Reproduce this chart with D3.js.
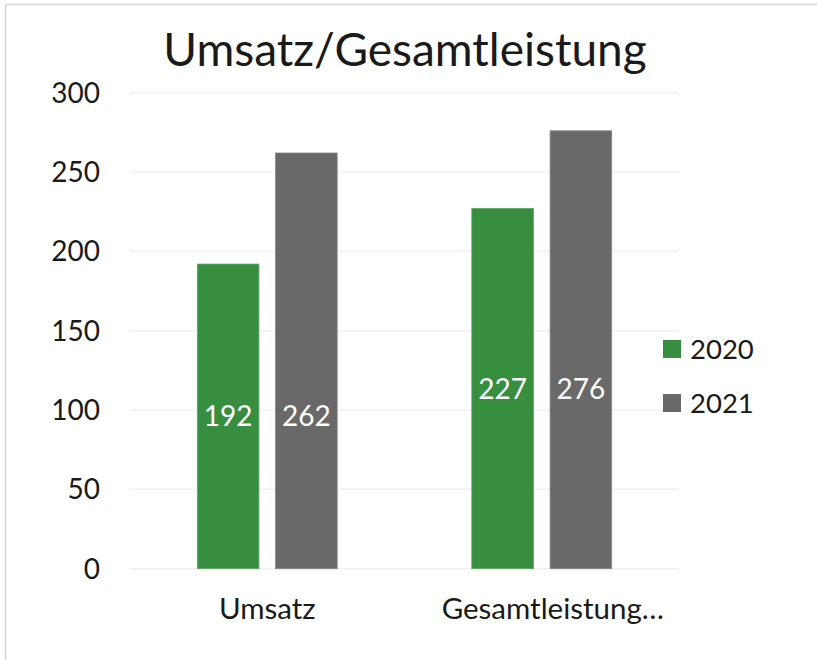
<!DOCTYPE html>
<html>
<head>
<meta charset="utf-8">
<script src="https://cdn.jsdelivr.net/npm/d3@7"></script>
<style>
  body { margin: 0; background: #fff; }
  svg text { font-family: Lato, "Open Sans", sans-serif; fill: #1a1a1a; }
</style>
</head>
<body>
<svg class="chart"></svg>
<script>
var width = 817,
    height = 660;

// chart data
var categories = ['Umsatz', 'Gesamtleistung'];
var series = ['2020', '2021'];
var values2020 = [192, 227];
var values2021 = [262, 276];
var yTicks = [0, 50, 100, 150, 200, 250, 300];
var colors = ['#378e3f', '#696969'];

var seriesValues = [values2020, values2021];

var chart = d3.select('.chart')
    .attr('width', width)
    .attr('height', height);

// outer frame
chart.append('path')
    .attr('d', 'M5.5,' + height + 'V4.5H' + width)
    .attr('fill', 'none')
    .attr('stroke', '#d4d4d4')
    .attr('stroke-width', 1.5);

var x0 = d3.scaleBand().domain(categories).range([130, 679]);
var x1 = d3.scaleBand().domain(series).range([0, x0.bandwidth()])
    .paddingInner(0.213).paddingOuter(0.86);
var y = d3.scaleLinear().domain([0, 300]).range([568.7, 92.7]);

// gridlines
chart.append('g').selectAll('line')
    .data(yTicks)
  .enter().append('line')
    .attr('x1', 130)
    .attr('x2', 679)
    .attr('y1', function(d) { return y(d); })
    .attr('y2', function(d) { return y(d); })
    .attr('stroke', '#f0f0f0')
    .attr('stroke-width', 1.5);

// y tick labels
chart.append('g').selectAll('text')
    .data(yTicks)
  .enter().append('text')
    .attr('x', 100)
    .attr('y', function(d) { return y(d); })
    .attr('dy', '.36em')
    .attr('text-anchor', 'end')
    .style('font-size', '28px')
    .text(function(d) { return d; });

// bars
var groups = chart.selectAll('g.cat')
    .data(categories)
  .enter().append('g')
    .attr('class', 'cat')
    .attr('transform', function(d) { return 'translate(' + x0(d) + ',0)'; });

groups.selectAll('rect')
    .data(function(d, i) {
      return series.map(function(s, j) { return { s: s, v: seriesValues[j][i], j: j }; });
    })
  .enter().append('rect')
    .attr('x', function(d) { return x1(d.s); })
    .attr('y', function(d) { return y(d.v); })
    .attr('width', x1.bandwidth())
    .attr('height', function(d) { return y(0) - y(d.v); })
    .attr('fill', function(d) { return colors[d.j]; })
    .attr('stroke', function(d) { return d.j == 0 ? '#5aa862' : '#858585'; })
    .attr('stroke-width', 0.8);

// data labels, all placed at the height of the 2020 label
groups.selectAll('text.val')
    .data(function(d, i) {
      return series.map(function(s, j) { return { s: s, v: seriesValues[j][i], base: values2020[i] }; });
    })
  .enter().append('text')
    .attr('class', 'val')
    .attr('x', function(d) { return x1(d.s) + x1.bandwidth() / 2; })
    .attr('y', function(d) { return (y(d.base) + y(0)) / 2; })
    .attr('dy', '.36em')
    .attr('text-anchor', 'middle')
    .style('fill', '#fff')
    .style('font-size', '28px')
    .text(function(d) { return d.v; });

// category labels (long one truncated with an ellipsis)
groups.append('text')
    .attr('x', x0.bandwidth() / 2)
    .attr('y', 619)
    .style('font-size', '29.5px')
    .text(function(d, i) { return i == 1 ? d + '…' : d; })
    .attr('text-anchor', 'start')
    .attr('dx', function(d, i) {
      var full = this.getComputedTextLength();
      var tail = i == 1 ? this.getSubStringLength(d.length, 1) : 0;
      return -(full - tail) / 2;
    });

// title
chart.append('text')
    .attr('x', 405)
    .attr('y', 66)
    .attr('text-anchor', 'middle')
    .style('font-size', '46px')
    .text('Umsatz/Gesamtleistung');

// legend
var legend = chart.selectAll('g.legend')
    .data(series)
  .enter().append('g')
    .attr('class', 'legend')
    .attr('transform', function(d, i) { return 'translate(663,' + (340 + i * 54) + ')'; });

legend.append('rect')
    .attr('width', 18)
    .attr('height', 18)
    .attr('fill', function(d, i) { return colors[i]; });

legend.append('text')
    .attr('x', 27)
    .attr('y', 9)
    .attr('dy', '.36em')
    .style('font-size', '27.5px')
    .text(function(d) { return d; });
</script>
</body>
</html>
